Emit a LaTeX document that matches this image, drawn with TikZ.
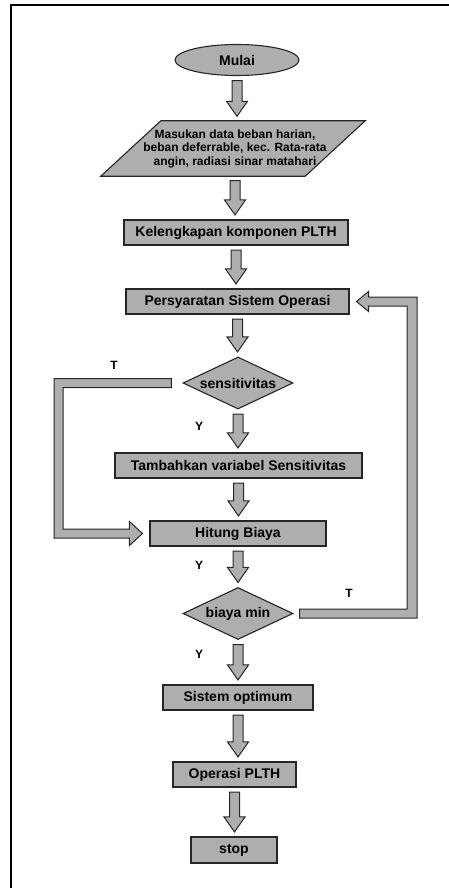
\documentclass[tikz,border=0pt]{standalone}
\usepackage{fontspec}
\setmainfont{Liberation Sans}
\usetikzlibrary{shapes,calc,backgrounds}

\definecolor{boxgray}{RGB}{174,174,174}

% fat block arrow from one node down to the next
\newcommand{\fatdown}[2]{%
	\draw[fatarrow] let \p1=($(#1.south)+(0,4.5)$), \p2=($(#2.north)+(0,-4.5)$) in
		(\x1-5pt,\y1) -- (\x1+5pt,\y1) -- (\x1+5pt,\y2+15pt) -- (\x1+10.5pt,\y2+15pt)
		-- (\x1,\y2) -- (\x1-10.5pt,\y2+15pt) -- (\x1-5pt,\y2+15pt) -- cycle;}

\begin{document}
\begin{tikzpicture}[x=1pt,y=-1pt]
	\tikzset{boxline/.style={draw=black!85,line width=1.1pt,fill=boxgray}}
	\tikzset{box/.style={boxline,rectangle,minimum height=25pt,inner sep=0pt,font=\fontsize{14}{16}\selectfont\bfseries}}
	\tikzset{decide/.style={box,diamond,shape aspect=2.1,minimum width=110pt,minimum height=52pt}}
	\tikzset{fatarrow/.style={draw=black!85,line width=1pt,fill=boxgray,line join=miter}}
	\tikzset{yt/.style={inner sep=0pt,font=\fontsize{12}{14}\selectfont\bfseries}}
	\useasboundingbox (0,0) rectangle (449,888);
	\draw[line width=2pt] (11,888) -- (11,5) -- (449,5);

	\node[box,ellipse,minimum width=124pt,minimum height=31pt] (mulai) at (237,60) {Mulai};
	\node[align=center,inner sep=0pt,minimum width=202pt,minimum height=55pt,
		font=\fontsize{12}{13.5}\selectfont\bfseries] (input) at (235,148.5)
		{Masukan data beban harian,\\beban deferrable, kec. Rata-rata\\angin, radiasi sinar matahari};
	\begin{scope}[on background layer]
		\draw[boxline] ($(input.south west)+(-33,0)$) -- ($(input.south east)+(-31,0)$)
			-- ($(input.north east)+(29,0)$) -- ($(input.north west)+(27,0)$) -- cycle;
	\end{scope}
	\node[box,minimum width=224pt] (lengkap) at (236,232.5) {Kelengkapan komponen PLTH};
	\node[box,minimum width=223pt] (syarat) at (237.5,301.5) {Persyaratan Sistem Operasi};
	\node[decide] (sens) at (238,383) {sensitivitas};
	\node[box,minimum width=247pt] (tambah) at (238.5,465.5) {Tambahkan variabel Sensitivitas};
	\node[box,minimum width=176pt] (hitung) at (238,533.5) {Hitung Biaya};
	\node[decide] (bmin) at (238,613.5) {biaya min};
	\node[box,minimum width=150pt] (optimum) at (238,697.5) {Sistem optimum};
	\node[box,minimum width=123pt] (operasi) at (234.5,774.5) {Operasi PLTH};
	\node[box,minimum width=86pt,minimum height=26pt] (stop) at (234,850) {stop};

	\fatdown{mulai}{input}
	\fatdown{input}{lengkap}
	\fatdown{lengkap}{syarat}
	\fatdown{syarat}{sens}
	\fatdown{sens}{tambah}
	\fatdown{tambah}{hitung}
	\fatdown{hitung}{bmin}
	\fatdown{bmin}{optimum}
	\fatdown{optimum}{operasi}
	\fatdown{operasi}{stop}

	% T branch of sensitivitas back into Hitung Biaya
	\draw[fatarrow] let \p1=(sens.west), \p2=(hitung.west) in
		(\x1-11pt,\y1+4.5pt) -- (54pt,\y1+4.5pt) -- (54pt,\y2-4.5pt) -- (\x2-20pt,\y2-4.5pt)
		-- (\x2-20pt,\y2-12pt) -- (\x2-7pt,\y2) -- (\x2-20pt,\y2+12pt) -- (\x2-20pt,\y2+4.5pt)
		-- (63pt,\y2+4.5pt) -- (63pt,\y1-4.5pt) -- (\x1-11pt,\y1-4.5pt) -- cycle;
	% T branch of biaya min back to Persyaratan
	\draw[fatarrow] let \p1=(bmin.east), \p2=(syarat.east) in
		(\x1+6pt,\y1+4.5pt) -- (407pt,\y1+4.5pt) -- (407pt,\y2-4.5pt) -- (\x2+19pt,\y2-4.5pt)
		-- (\x2+19pt,\y2-10pt) -- (\x2+7pt,\y2) -- (\x2+19pt,\y2+10pt) -- (\x2+19pt,\y2+4.5pt)
		-- (417pt,\y2+4.5pt) -- (417pt,\y1-4.5pt) -- (\x1+6pt,\y1-4.5pt) -- cycle;

	\node[yt] (tsens) at (114,365) {T};
	\node[yt] (ysens) at (199,426) {Y};
	\node[yt] (yhit) at (199,565) {Y};
	\node[yt] (tmin) at (349,593) {T};
	\node[yt] (ymin) at (199,654) {Y};
\end{tikzpicture}
\end{document}
